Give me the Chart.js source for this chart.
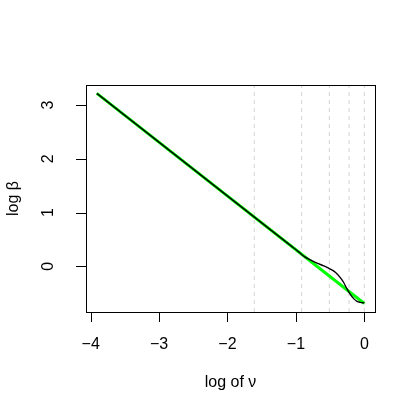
<!DOCTYPE html>
<html>
<head>
<meta charset="utf-8">
<script src="https://cdn.jsdelivr.net/npm/chart.js@4"></script>
<style>
  html, body { margin: 0; padding: 0; background: #fff; }
  #wrap { width: 419px; height: 419px; }
</style>
</head>
<body>
<div id="wrap"><canvas id="myChart"></canvas></div>
<script>
const xTicks = [-4, -3, -2, -1, 0];
const yTicks = [0, 1, 2, 3];

// straight reference line (green)
const lineX = [-3.91, 0];
const lineY = [3.22, -0.69];

// fitted curve (black)
const fitX = [-3.91, -2.5, -1.5, -1.08, -0.95, -0.887, -0.789, -0.692, -0.595, -0.497, -0.424, -0.351, -0.302, -0.253, -0.205, -0.156, -0.107, -0.058, 0];
const fitY = [3.22, 1.81, 0.81, 0.39, 0.26, 0.19, 0.12, 0.06, 0.01, -0.05, -0.11, -0.21, -0.30, -0.42, -0.52, -0.60, -0.65, -0.67, -0.68];

// dashed verticals at log(0.2), log(0.4), log(0.6), log(0.8), log(1)
const nuLines = [-1.609, -0.916, -0.511, -0.223, 0];

const xRange = [-4.068, 0.156];
const yRange = [-0.849, 3.375];

const font = '16px "Liberation Sans", Arial, sans-serif';

function toPoints(xs, ys) {
  return xs.map((x, i) => ({x: x, y: ys[i]}));
}

let datasets = [];
nuLines.forEach(v => {
  datasets.push({
    data: [{x: v, y: yRange[0]}, {x: v, y: yRange[1]}],
    borderColor: '#d3d3d3',
    borderWidth: 1,
    borderDash: [4, 4],
    pointRadius: 0,
    order: 10
  });
});
datasets.push({
  data: toPoints(lineX, lineY),
  borderColor: '#00ff00',
  borderWidth: 3,
  pointRadius: 0,
  order: 5
});
datasets.push({
  data: toPoints(fitX, fitY),
  borderColor: '#000000',
  borderWidth: 1.4,
  pointRadius: 0,
  cubicInterpolationMode: 'monotone',
  order: 1
});

const rAxes = {
  id: 'rAxes',
  afterDraw(chart) {
    const c = chart.ctx;
    const a = chart.chartArea;
    const xs = chart.scales.x, ys = chart.scales.y;
    c.save();
    c.strokeStyle = '#000';
    c.lineWidth = 1;
    c.strokeRect(Math.round(a.left) + 0.5, Math.round(a.top) + 0.5,
      Math.round(a.right - a.left), Math.round(a.bottom - a.top));
    c.fillStyle = '#000';
    c.font = font;

    // x axis
    c.beginPath();
    c.moveTo(xs.getPixelForValue(xTicks[0]), a.bottom + 0.5);
    c.lineTo(xs.getPixelForValue(xTicks[xTicks.length - 1]), a.bottom + 0.5);
    xTicks.forEach(t => {
      const px = Math.round(xs.getPixelForValue(t)) + 0.5;
      c.moveTo(px, a.bottom);
      c.lineTo(px, a.bottom + 10);
    });
    c.stroke();
    c.textAlign = 'center';
    c.textBaseline = 'middle';
    xTicks.forEach(t => {
      const s = t < 0 ? '\u2212' + Math.abs(t) : String(t);
      c.fillText(s, xs.getPixelForValue(t), a.bottom + 33);
    });
    c.fillText('log of \u03bd', (a.left + a.right) / 2, a.bottom + 71);

    // y axis
    c.beginPath();
    c.moveTo(a.left + 0.5, ys.getPixelForValue(yTicks[0]));
    c.lineTo(a.left + 0.5, ys.getPixelForValue(yTicks[yTicks.length - 1]));
    yTicks.forEach(t => {
      const py = Math.round(ys.getPixelForValue(t)) + 0.5;
      c.moveTo(a.left, py);
      c.lineTo(a.left - 10, py);
    });
    c.stroke();
    yTicks.forEach(t => {
      c.save();
      c.translate(a.left - 37, ys.getPixelForValue(t));
      c.rotate(-Math.PI / 2);
      c.fillText(String(t), 0, 0);
      c.restore();
    });
    c.save();
    c.translate(14, (a.top + a.bottom) / 2);
    c.rotate(-Math.PI / 2);
    c.fillText('log \u03b2', 0, 0);
    c.restore();
    c.restore();
  }
};

const ctx = document.getElementById('myChart');

const myChart = new Chart(ctx, {
  type: 'line',
  data: { datasets: datasets },
  options: {
    responsive: true,
    maintainAspectRatio: false,
    animation: false,
    layout: { padding: { left: 0, top: 85, right: 44, bottom: 0 } },
    plugins: { legend: { display: false }, tooltip: { enabled: false } },
    scales: {
      x: {
        type: 'linear', min: xRange[0], max: xRange[1],
        ticks: { display: false }, grid: { display: false }, border: { display: false },
        afterFit: s => { s.height = 107; }
      },
      y: {
        type: 'linear', min: yRange[0], max: yRange[1],
        ticks: { display: false }, grid: { display: false }, border: { display: false },
        afterFit: s => { s.width = 86; }
      }
    }
  },
  plugins: [rAxes]
});
</script>
</body>
</html>
